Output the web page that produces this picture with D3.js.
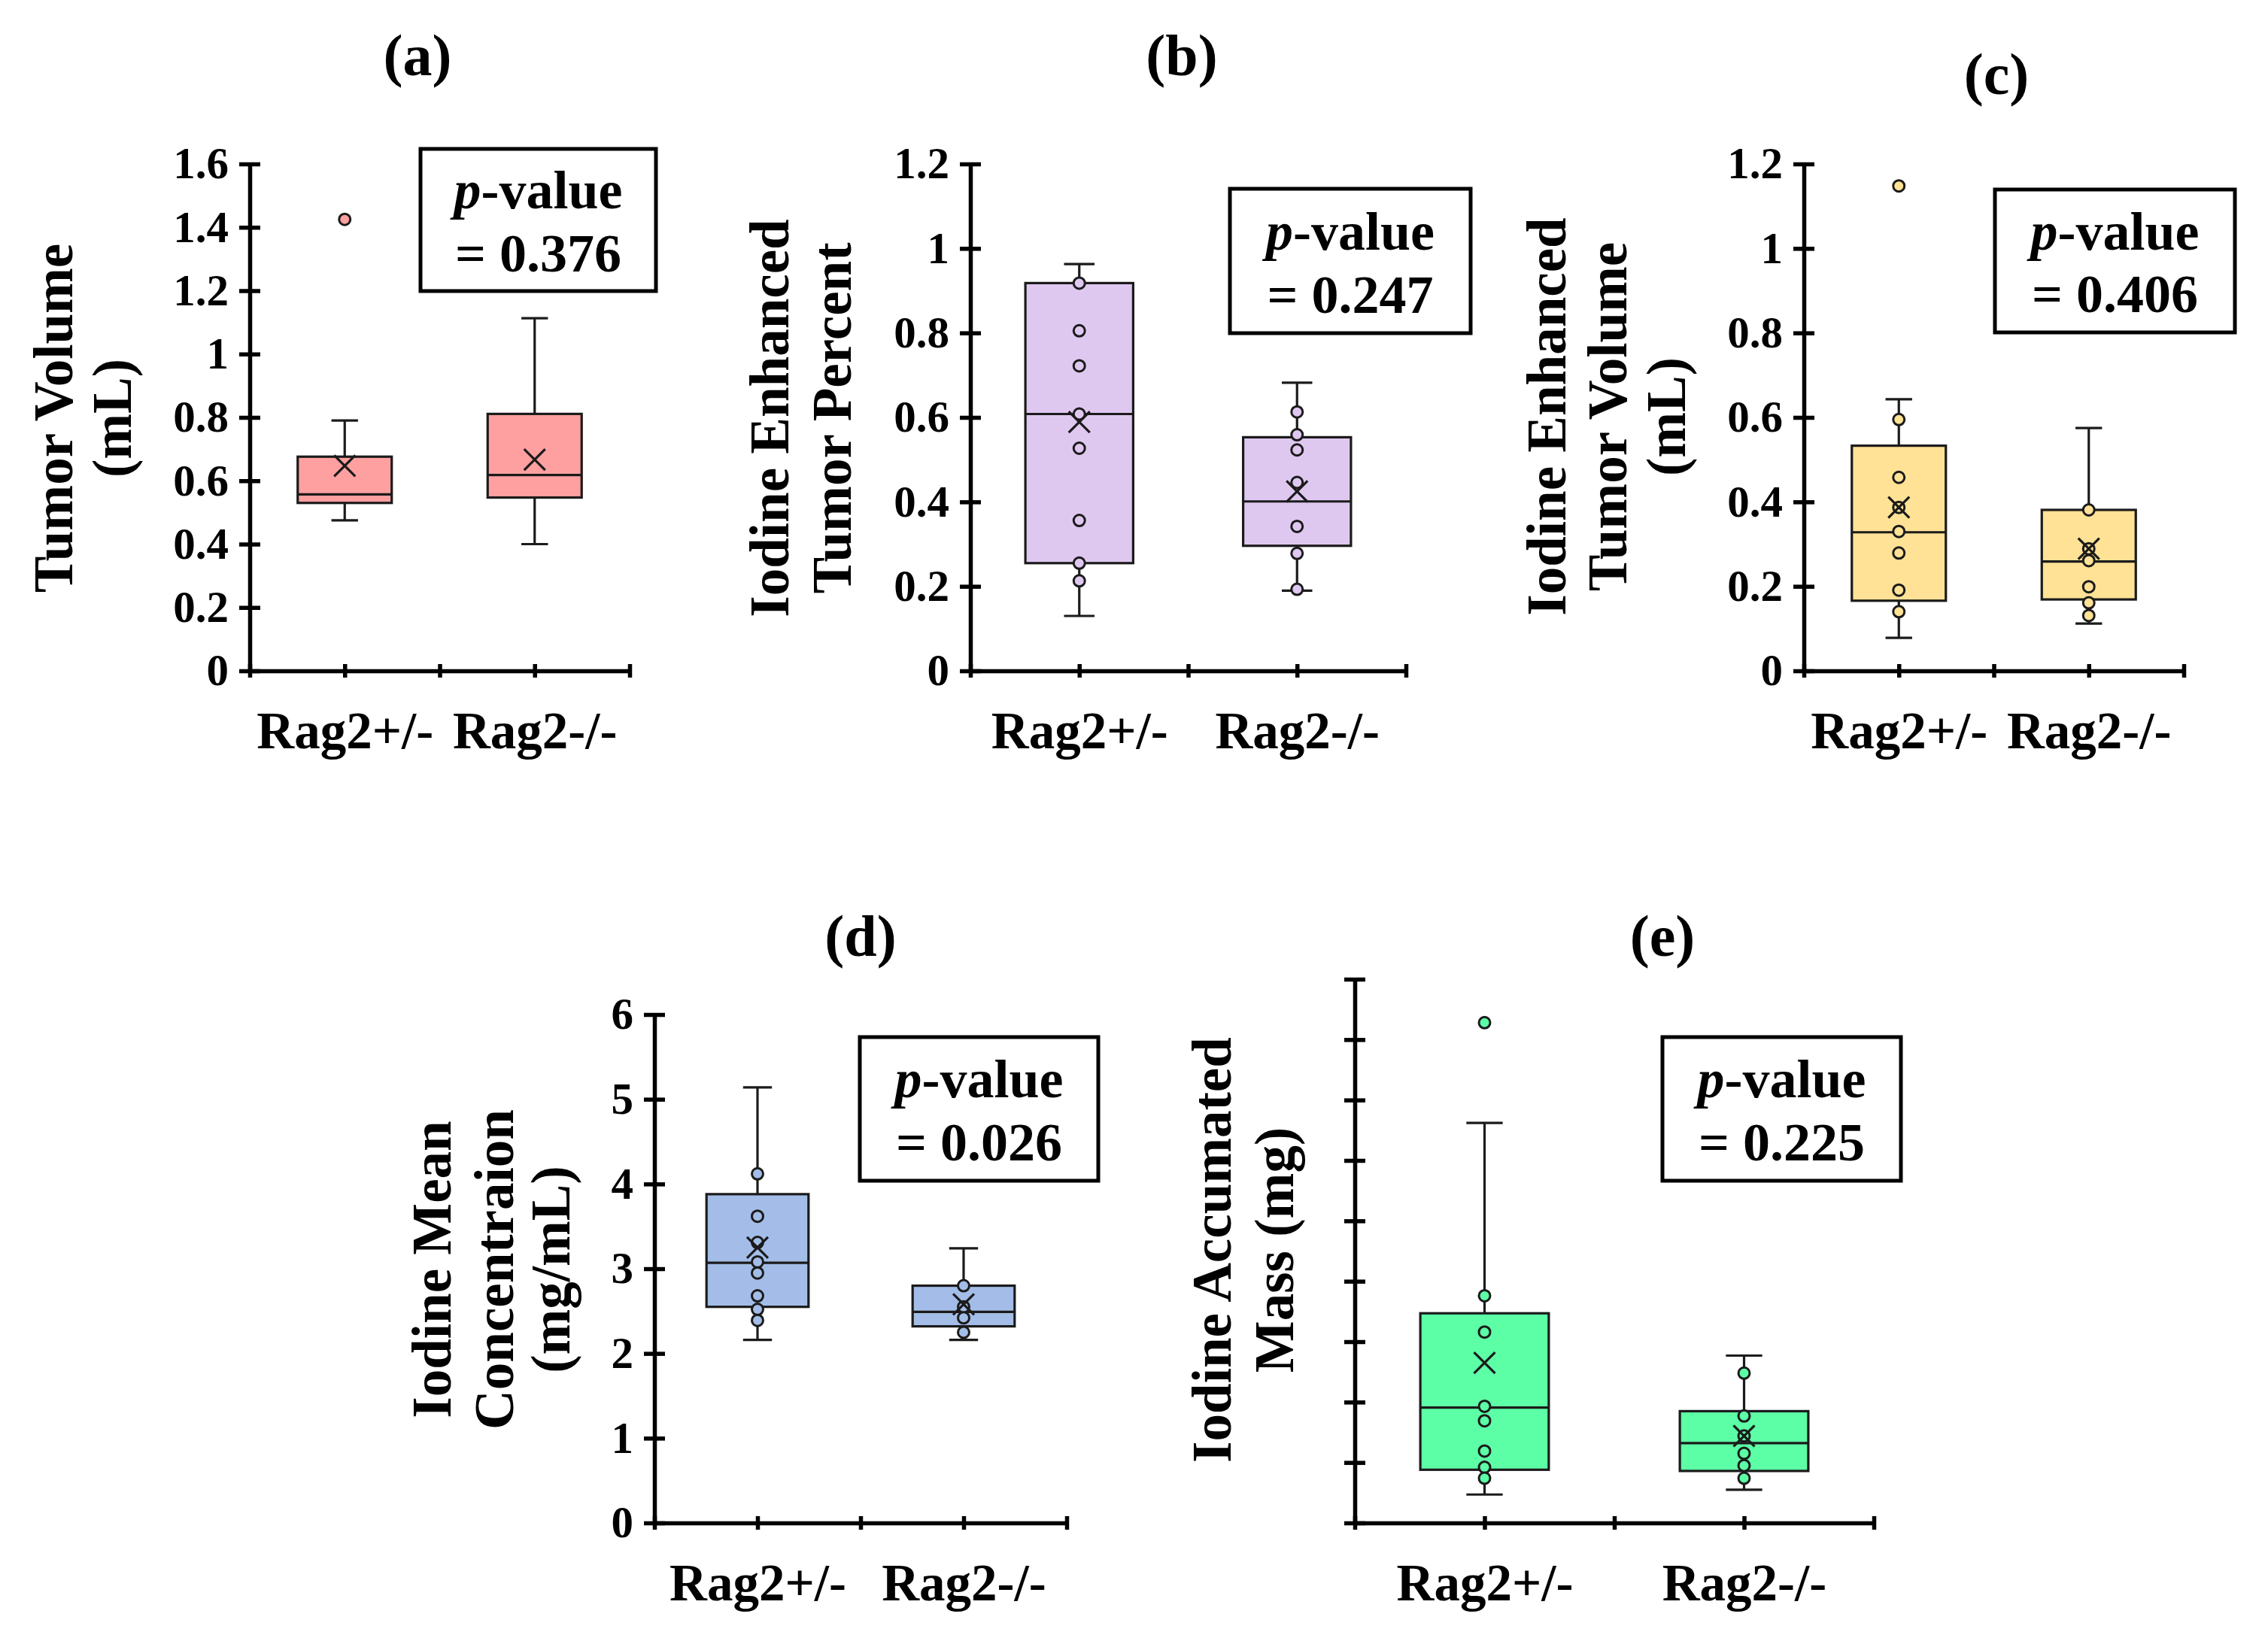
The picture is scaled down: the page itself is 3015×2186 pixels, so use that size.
<!DOCTYPE html>
<html>
<head>
<meta charset="utf-8">
<script src="https://cdn.jsdelivr.net/npm/d3@7"></script>
<style>
  body { margin: 0; background: #fff; }
  svg { display: block; font-family: "Liberation Serif", "Times New Roman", serif; font-weight: bold; }
</style>
</head>
<body>
<svg id="chart" width="3015" height="2186"></svg>
<script>
const categories = ['Rag2+/-', 'Rag2-/-'];
const panelTitles = ['(a)', '(b)', '(c)', '(d)', '(e)'];
const yAxisTitles = [
  ['Tumor Volume', '(mL)'],
  ['Iodine Enhanced', 'Tumor Percent'],
  ['Iodine Enhanced', 'Tumor Volume', '(mL)'],
  ['Iodine Mean', 'Concentraion', '(mg/mL)'],
  ['Iodine Accumated', 'Mass (mg)']
];
const pValues = ['0.376', '0.247', '0.406', '0.026', '0.225'];
const yMaxima = [1.6, 1.2, 1.2, 6, 9];
const yTickSteps = [0.2, 0.2, 0.2, 1, 1];
const showTickLabels = [true, true, true, true, false];

// box stats per group: [whisker low, Q1, median, Q3, whisker high, mean]
const tumorVolumeBox = [[0.475, 0.530, 0.557, 0.676, 0.790, 0.647], [0.400, 0.547, 0.618, 0.811, 1.113, 0.667]];
const tumorVolumePoints = [[], []];
const tumorVolumeOutliers = [[1.425], []];

const enhancedPercentBox = [[0.130, 0.255, 0.608, 0.918, 0.963, 0.589], [0.190, 0.296, 0.401, 0.553, 0.682, 0.425]];
const enhancedPercentPoints = [[0.918, 0.805, 0.722, 0.608, 0.527, 0.356, 0.255, 0.213], [0.613, 0.559, 0.523, 0.446, 0.342, 0.278, 0.193]];
const enhancedPercentOutliers = [[], []];

const enhancedVolumeBox = [[0.078, 0.166, 0.328, 0.533, 0.643, 0.387], [0.112, 0.169, 0.259, 0.381, 0.575, 0.289]];
const enhancedVolumePoints = [[0.595, 0.458, 0.387, 0.330, 0.279, 0.191, 0.140], [0.381, 0.289, 0.261, 0.199, 0.161, 0.131]];
const enhancedVolumeOutliers = [[1.148], []];

const meanConcBox = [[2.16, 2.55, 3.07, 3.88, 5.14, 3.25], [2.16, 2.32, 2.49, 2.80, 3.24, 2.58]];
const meanConcPoints = [[4.12, 3.62, 3.31, 3.08, 2.95, 2.68, 2.52, 2.39], [2.80, 2.55, 2.42, 2.25]];
const meanConcOutliers = [[], []];

// panel (e) has no tick labels: values in tick-mark units
const accMassBox = [[0.47, 0.88, 1.91, 3.47, 6.62, 2.65], [0.55, 0.86, 1.32, 1.85, 2.77, 1.44]];
const accMassPoints = [[3.76, 3.16, 1.93, 1.69, 1.19, 0.92, 0.74], [2.48, 1.77, 1.44, 1.15, 0.95, 0.74]];
const accMassOutliers = [[8.28], []];

const panelBoxes = [tumorVolumeBox, enhancedPercentBox, enhancedVolumeBox, meanConcBox, accMassBox];
const panelPoints = [tumorVolumePoints, enhancedPercentPoints, enhancedVolumePoints, meanConcPoints, accMassPoints];
const panelOutliers = [tumorVolumeOutliers, enhancedPercentOutliers, enhancedVolumeOutliers, meanConcOutliers, accMassOutliers];

const boxFills = ['#ffa0a0', '#dfc8f0', '#ffe295', '#a3bde8', '#5cffa6'];

// layout (pixels)
const frames = [
  { x0: 332, x1: 837, yTop: 218, yBot: 892, tx: 555, ty: 100, pb: [559, 198, 872, 387], lx: [96, 174], ly: 556 },
  { x0: 1290, x1: 1869, yTop: 218, yBot: 892, tx: 1571, ty: 100, pb: [1635, 251, 1955, 443], lx: [1048, 1131], ly: 556 },
  { x0: 2398, x1: 2903, yTop: 218, yBot: 892, tx: 2654, ty: 125, pb: [2652, 252, 2971, 442], lx: [2081, 2162, 2240], ly: 554 },
  { x0: 870, x1: 1418, yTop: 1349, yBot: 2025, tx: 1144, ty: 1271, pb: [1143, 1379, 1460, 1570], lx: [599, 682, 757], ly: 1688 },
  { x0: 1801, x1: 2491, yTop: 1302, yBot: 2025, tx: 2210, ty: 1271, pb: [2210, 1379, 2527, 1570], lx: [1636, 1719], ly: 1662 }
];

const svg = d3.select('#chart');
const INK = '#1b1b1b';
const LW = 3.2;

frames.forEach((f, pi) => {
  const g = svg.append('g');

  const y = d3.scaleLinear().domain([0, yMaxima[pi]]).range([f.yBot, f.yTop]);
  const x = d3.scaleLinear().domain([0, categories.length]).range([f.x0, f.x1]);
  const band = x(1) - x(0);

  // panel title
  g.append('text')
    .attr('x', f.tx).attr('y', f.ty)
    .attr('text-anchor', 'middle')
    .style('font-size', '78px')
    .text(panelTitles[pi]);

  // y axis title lines (rotated)
  yAxisTitles[pi].forEach((line, li) => {
    g.append('text')
      .attr('transform', `translate(${f.lx[li]},${f.ly}) rotate(-90)`)
      .attr('text-anchor', 'middle')
      .style('font-size', '73px')
      .text(line);
  });

  // whiskers, boxes, medians
  const bw = band * 0.495;
  const cap = band * 0.14;
  panelBoxes[pi].forEach((s, i) => {
    const cx = x(i + 0.5);
    const [lo, q1, med, q3, hi] = s;
    g.append('line').attr('x1', cx).attr('x2', cx).attr('y1', y(lo)).attr('y2', y(q1))
      .attr('stroke', INK).attr('stroke-width', LW);
    g.append('line').attr('x1', cx).attr('x2', cx).attr('y1', y(q3)).attr('y2', y(hi))
      .attr('stroke', INK).attr('stroke-width', LW);
    [lo, hi].forEach(v => {
      g.append('line').attr('x1', cx - cap / 2).attr('x2', cx + cap / 2).attr('y1', y(v)).attr('y2', y(v))
        .attr('stroke', INK).attr('stroke-width', LW);
    });
    g.append('rect')
      .attr('x', cx - bw / 2).attr('y', y(q3))
      .attr('width', bw).attr('height', y(q1) - y(q3))
      .attr('fill', boxFills[pi]).attr('stroke', INK).attr('stroke-width', LW);
    g.append('line').attr('x1', cx - bw / 2).attr('x2', cx + bw / 2).attr('y1', y(med)).attr('y2', y(med))
      .attr('stroke', INK).attr('stroke-width', LW);
  });

  // inner points and outliers
  [panelPoints[pi], panelOutliers[pi]].forEach(groups => {
    groups.forEach((vals, i) => {
      g.selectAll(null)
        .data(vals)
        .enter()
        .append('circle')
        .attr('cx', x(i + 0.5))
        .attr('cy', d => y(d))
        .attr('r', 7.5)
        .attr('fill', boxFills[pi])
        .attr('stroke', INK)
        .attr('stroke-width', 3);
    });
  });

  // mean markers
  panelBoxes[pi].forEach((s, i) => {
    const cx = x(i + 0.5), cy = y(s[5]), h = 14;
    g.append('path')
      .attr('d', `M${cx - h},${cy - h}L${cx + h},${cy + h}M${cx - h},${cy + h}L${cx + h},${cy - h}`)
      .attr('stroke', INK).attr('stroke-width', LW).attr('fill', 'none');
  });

  // y axis with crossing ticks
  const step = yTickSteps[pi];
  const nTicks = Math.round(yMaxima[pi] / step);
  const yTicks = d3.range(0, nTicks + 1).map(k => +(k * step).toFixed(2));
  const gy = g.append('g')
    .attr('transform', 'translate(' + f.x0 + ',0)')
    .call(d3.axisLeft(y)
      .tickValues(yTicks)
      .tickSizeInner(14)
      .tickSizeOuter(0)
      .tickPadding(14)
      .tickFormat(showTickLabels[pi] ? (d => String(d)) : ''))
    .attr('font-family', null)
    .attr('font-size', null);
  gy.select('.domain').attr('stroke', '#000').attr('stroke-width', 5.5);
  gy.selectAll('.tick line').attr('x1', 14).attr('stroke', '#000').attr('stroke-width', 5.5);
  gy.selectAll('.tick text').attr('fill', '#000').style('font-size', '59px');

  // x axis: ticks at group centres and boundaries, labels at centres
  const xTicks = d3.range(0, categories.length * 2 + 1).map(k => k / 2);
  const gx = g.append('g')
    .attr('transform', 'translate(0,' + f.yBot + ')')
    .call(d3.axisBottom(x)
      .tickValues(xTicks)
      .tickSizeInner(9)
      .tickSizeOuter(0)
      .tickPadding(45)
      .tickFormat(v => (v % 1) ? categories[Math.floor(v)] : ''))
    .attr('font-family', null)
    .attr('font-size', null);
  gx.select('.domain').attr('stroke', '#000').attr('stroke-width', 5.5);
  gx.selectAll('.tick line').attr('y1', -9).attr('stroke', '#000').attr('stroke-width', 5.5);
  gx.selectAll('.tick text').attr('fill', '#000').style('font-size', '69px');

  // p-value box
  const [bx0, by0, bx1, by1] = f.pb;
  g.append('rect')
    .attr('x', bx0).attr('y', by0)
    .attr('width', bx1 - bx0).attr('height', by1 - by0)
    .attr('fill', '#fff').attr('stroke', '#000').attr('stroke-width', 5);
  const pcx = (bx0 + bx1) / 2, bh = by1 - by0;
  const t1 = g.append('text')
    .attr('x', pcx).attr('y', by0 + bh * 0.42)
    .attr('text-anchor', 'middle')
    .style('font-size', '72px');
  t1.append('tspan').style('font-style', 'italic').text('p');
  t1.append('tspan').text('-value');
  g.append('text')
    .attr('x', pcx).attr('y', by0 + bh * 0.86)
    .attr('text-anchor', 'middle')
    .style('font-size', '72px')
    .text('= ' + pValues[pi]);
});
</script>
</body>
</html>
